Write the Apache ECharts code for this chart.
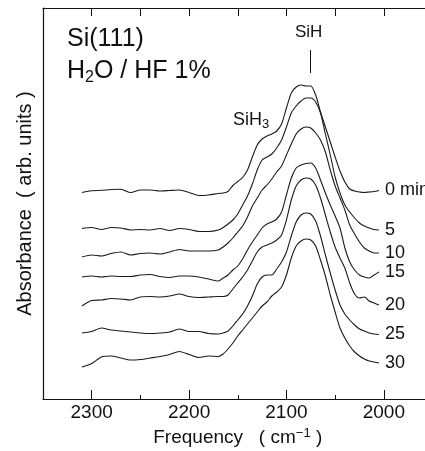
<!DOCTYPE html>
<html><head><meta charset="utf-8">
<script src="https://cdn.jsdelivr.net/npm/echarts@6/dist/echarts.min.js"></script>
<style>html,body{margin:0;padding:0;background:#fff}#c{width:425px;height:451px}</style>
</head><body><div id="c"></div>
<script>
// Frequency grid (cm^-1)
const freq = [2310,2300,2290,2280,2270,2260,2250,2240,2230,2220,2210,2200,2190,2180,2170,
  2165,2160,2155,2150,2145,2140,2135,2130,2125,2120,2115,2110,2105,2100,2095,2090,2085,2080,2075,2070,2065,2060,2055,2050,2045,2040,2035,2030,2025,2020,2015,2010,2005];
// Time labels for each spectrum
const timeLabels = ['0 min','5','10','15','20','25','30'];
// Offset spectra, absorbance in arbitrary units (vertically stacked as in the figure)
const spec0 = [206.5,208.3,208.7,209.5,209.7,206.5,209,209,208,208.5,209,206.5,203.5,204,205.5,
  206,207.5,213.5,217.5,221.5,229,242,254,260,263,265,268,275,291,306,312,314,313,313,304,287,272,257,242,228,217,210,208,207,206.5,207,207.5,208.5];
const spec5 = [170.5,171.5,169.5,171.5,171,169,169.5,169,170.5,168.5,170.5,169.5,167.5,167.5,169,
  171.5,175,179,185,194,203,215,229,239,242,245,251,259,272,286,293,298,301,301,297,286,265,244,222,206,194,187,181,176,173,171,169.5,169];
const spec10 = [142,144,143,145.5,147,144,145.5,146,145,147,149.5,148,148,148,149,
  152,156,161,167,173,182,193,201,209,214,220,227,233,244,255,265,270,272,271,266,259,247,229,213,201,189,174,165,157,151,148,146,146];
const spec15 = [122,123,122,123,122.5,122.5,124,124.5,122.5,121.5,123,123,122,120,118,
  121,124,129,133,140,149,157,164,171,175,177,180,187,204,221,231,234,235.5,236,231,219,206,194,183,171,151,137,129,124,122,121,124,127];
const spec20 = [93,98.5,99,100.5,100,99,102,102.5,102,103,105,102.5,101.5,102,102.5,
  102.5,104,110,116,122,129,138,147,152,154,156,159,164,179,199,213,219,221,220,214,201,184,167,152,141,131,116,105,101,102,98,96,94];
const spec25 = [66,67.5,71,69,68,67,66,65.5,66,67,70,67.5,67.5,65.5,65,
  66,68,73,79,85,93,103,115,122,124,124,130,137,147,163,177,184,186,185,178,163,144,126,109,94,85,79,74,70,68,66,65,64.5];
const spec30 = [32,35.5,42,43,41,39,39.5,41,42.5,44.5,47.5,44.5,41.5,43,42.5,
  45,50,56,63,69,75,81,87,93,97,103,107,112,124,141,153,158,160,159,153,139,123,104,87,71,61,53,47,43,40,38,37,36];
const spectra = [spec0, spec5, spec10, spec15, spec20, spec25, spec30];
// Axis ticks
const majorTicks = [2300,2200,2100,2000];
const sihPosition = 2076;

const FONT = 'Liberation Sans, Arial, Helvetica, sans-serif';
const INK = '#111';
const chart = echarts.init(document.getElementById('c'), null, {renderer:'canvas'});

const last = freq.length - 1;
const series = timeLabels.map((name, i) => ({
  type: 'line',
  name: name,
  xAxisIndex: 0,
  data: freq.map((f, j) => [f, spectra[i][j]]),
  showSymbol: false,
  smooth: 0.25,
  animation: false,
  lineStyle: {color: '#1a1a1a', width: 1.1},
  markPoint: {
    silent: true, animation: false, symbol: 'circle', symbolSize: 0,
    data: [{coord: [freq[last], spectra[i][last]]}],
    label: {show: true, position: 'right', distance: 6, formatter: name, fontSize: 18, color: INK, fontFamily: FONT}
  },
  markLine: i === 0 ? {
    silent: true, symbol: ['none','none'], animation: false,
    label: {show: false},
    lineStyle: {color: INK, type: 'solid', width: 1},
    data: [[{coord: [sihPosition, 349]}, {coord: [sihPosition, 326]}]]
  } : undefined
}));

const option = {
  animation: false,
  textStyle: {fontFamily: FONT},
  grid: {left: 43, right: -7.5, top: 8, bottom: 52, outerBoundsMode: 'none', containLabel: false},
  xAxis: [
    {
      type: 'value', position: 'bottom', min: 1950, max: 2350, inverse: true, interval: 50,
      axisLine: {show: true, lineStyle: {color: INK, width: 1.2}},
      axisTick: {show: true, inside: true, length: 4, lineStyle: {color: INK, width: 1}},
      splitLine: {show: false},
      axisLabel: {formatter: v => (v % 100 === 0 && v < 2350) ? String(v) : '', fontSize: 19, color: INK, margin: 4, fontFamily: FONT},
      name: '{m|Frequency   ( cm}{p|\u22121}{m| )}',
      nameLocation: 'middle', nameGap: 27,
      nameTextStyle: {color: INK, fontFamily: FONT, rich: {
        m: {fontSize: 19, lineHeight: 22, color: INK, fontFamily: FONT},
        p: {fontSize: 13, lineHeight: 12, verticalAlign: 'top', color: INK, fontFamily: FONT}
      }}
    },
    {
      type: 'value', position: 'bottom', min: 1950, max: 2350, inverse: true,
      axisLine: {show: false},
      axisTick: {show: true, inside: true, length: 9, customValues: majorTicks, lineStyle: {color: INK, width: 1}},
      axisLabel: {show: false}, splitLine: {show: false}
    },
    {
      type: 'value', position: 'top', min: 1950, max: 2350, inverse: true, interval: 50,
      axisLine: {show: true, lineStyle: {color: INK, width: 1.2}},
      axisTick: {show: true, inside: true, length: 8, lineStyle: {color: INK, width: 1}},
      axisLabel: {show: false}, splitLine: {show: false}
    }
  ],
  yAxis: {
    type: 'value', min: 0, max: 391,
    axisLine: {show: true, lineStyle: {color: INK, width: 1.2}},
    axisTick: {show: false}, axisLabel: {show: false}, splitLine: {show: false},
    name: 'Absorbance  ( arb. units )', nameLocation: 'middle', nameGap: 8,
    nameTextStyle: {fontSize: 20, color: INK, fontFamily: FONT}
  },
  graphic: [
    {type: 'text', left: 67, top: 27, style: {text: 'Si(111)', fontSize: 25, fill: INK, fontFamily: FONT}},
    {type: 'text', left: 67, top: 59, style: {
      text: '{m|H}{s|2}{m|O / HF 1%}', fill: INK, fontFamily: FONT,
      rich: {m: {fontSize: 25, lineHeight: 29, fontFamily: FONT, fill: INK}, s: {fontSize: 16, lineHeight: 14, verticalAlign: 'bottom', fontFamily: FONT, fill: INK}}
    }},
    {type: 'text', left: 295, top: 24, style: {text: 'SiH', fontSize: 17, fill: INK, fontFamily: FONT}},
    {type: 'text', left: 233, top: 111, style: {
      text: '{m|SiH}{s|3}', fill: INK, fontFamily: FONT,
      rich: {m: {fontSize: 18, lineHeight: 22, fontFamily: FONT, fill: INK}, s: {fontSize: 13, lineHeight: 12, verticalAlign: 'bottom', fontFamily: FONT, fill: INK}}
    }}
  ],
  series: series
};
chart.setOption(option);
</script>
</body></html>
